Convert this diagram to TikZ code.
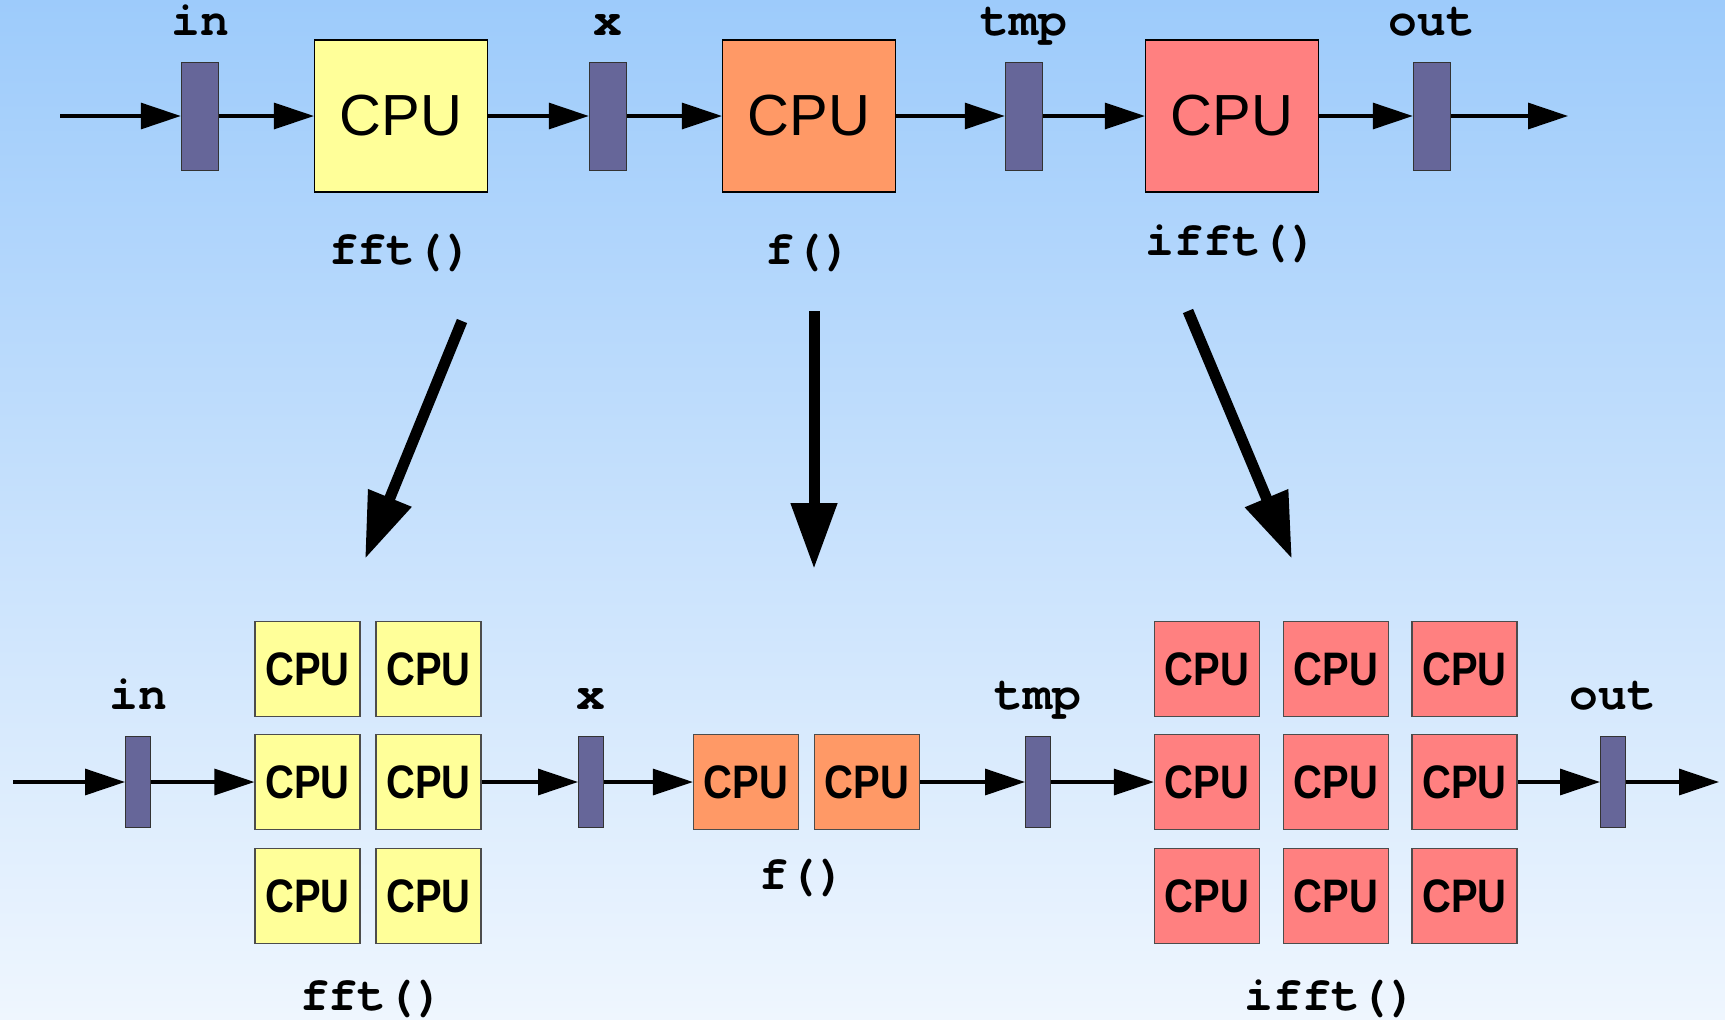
\documentclass[tikz,border=0pt]{standalone}
\usepackage{fontspec}
\setmainfont{Liberation Sans}
\setmonofont[Ligatures={NoCommon,NoRequired}]{TeX Gyre Cursor}
\newfontfamily\cpunarrow[FakeStretch=0.85]{Liberation Sans}
\usetikzlibrary{arrows.meta}

\definecolor{cpuyellow}{HTML}{FFFF99}
\definecolor{cpuorange}{HTML}{FF9966}
\definecolor{cpured}{HTML}{FF8080}
\definecolor{bufblue}{HTML}{666699}
\definecolor{bgtop}{RGB}{157,203,251}
\definecolor{bgbottom}{RGB}{239,246,254}

\begin{document}
\begin{tikzpicture}[x=0.5pt, y=-0.5pt,
    buf/.style={draw=black!80, fill=bufblue, inner sep=0pt, line width=0.5pt},
    bigcpu/.style={draw=black, inner sep=0pt, line width=0.6pt, minimum width=86.5pt, minimum height=76pt, font=\fontsize{29}{30}\selectfont},
    smallcpu/.style={draw=black!70, inner sep=0pt, line width=0.6pt, minimum width=52.5pt, minimum height=47.75pt, font=\cpunarrow\bfseries\fontsize{23.5}{24}\selectfont},
    lbl/.style={anchor=base, font=\ttfamily\bfseries\fontsize{24}{25}\selectfont},
    flow/.style={-{Triangle[length=20pt,width=13pt]}, line width=1.6pt},
    bigflow/.style={-{Triangle[length=33pt,width=22pt]}, line width=5.5pt}]
    % Hintergrund
    \useasboundingbox (0,0) rectangle (1725,1019);
    \shade[top color=bgtop, bottom color=bgbottom] (0,0) rectangle (1725,1019);

    % Obere Zeile: ein CPU pro Schritt
    \coordinate (tstart) at (60,116);
    \coordinate (tend) at (1568,116);
    \node[buf, minimum width=18.75pt, minimum height=54pt] (tin) at (200,116) {};
    \node[bigcpu, fill=cpuyellow] (tfft) at (401,116) {CPU};
    \node[buf, minimum width=18.75pt, minimum height=54pt] (tx) at (608,116) {};
    \node[bigcpu, fill=cpuorange] (tf) at (809,116) {CPU};
    \node[buf, minimum width=18.75pt, minimum height=54pt] (ttmp) at (1024,116) {};
    \node[bigcpu, fill=cpured] (tifft) at (1232,116) {CPU};
    \node[buf, minimum width=18.75pt, minimum height=54pt] (tout) at (1432,116) {};

    \node[lbl] (tinlbl) at (200,35) {in};
    \node[lbl] (txlbl) at (608,35) {x};
    \node[lbl] (ttmplbl) at (1024,35) {tmp};
    \node[lbl] (toutlbl) at (1432,35) {out};
    \node[lbl] (tfftlbl) at (401,264) {fft()};
    \node[lbl] (tflbl) at (809,264) {f()};
    \node[lbl] (tifftlbl) at (1232,255) {ifft()};

    \draw[flow] (tstart) -- (tin);
    \draw[flow] (tin) -- (tfft);
    \draw[flow] (tfft) -- (tx);
    \draw[flow] (tx) -- (tf);
    \draw[flow] (tf) -- (ttmp);
    \draw[flow] (ttmp) -- (tifft);
    \draw[flow] (tifft) -- (tout);
    \draw[flow] (tout) -- (tend);

    % Grosse Pfeile
    \coordinate (afft) at (462,321);
    \coordinate (bfft) at (365,559);
    \coordinate (af) at (814,311);
    \coordinate (bf) at (814,569);
    \coordinate (aifft) at (1188,311);
    \coordinate (bifft) at (1292,559);
    \draw[bigflow] (afft) -- (bfft);
    \draw[bigflow] (af) -- (bf);
    \draw[bigflow] (aifft) -- (bifft);

    % Untere Zeile: mehrere CPUs pro Schritt
    \coordinate (bstart) at (13,782);
    \coordinate (bend) at (1719,782);
    \node[buf, minimum width=12.5pt, minimum height=45.5pt] (bin) at (138,782) {};
    \foreach \r/\yy in {1/669,2/782,3/896}
      \foreach \c/\xx in {1/307.5,2/428.5}
        \node[smallcpu, fill=cpuyellow] (yc\r\c) at (\xx,\yy) {CPU};
    \node[buf, minimum width=12.5pt, minimum height=45.5pt] (bx) at (591,782) {};
    \node[smallcpu, fill=cpuorange] (oc1) at (746,782) {CPU};
    \node[smallcpu, fill=cpuorange] (oc2) at (867,782) {CPU};
    \node[buf, minimum width=12.5pt, minimum height=45.5pt] (btmp) at (1038,782) {};
    \foreach \r/\yy in {1/669,2/782,3/896}
      \foreach \c/\xx in {1/1207,2/1336,3/1464.5}
        \node[smallcpu, fill=cpured] (rc\r\c) at (\xx,\yy) {CPU};
    \node[buf, minimum width=12.5pt, minimum height=45.5pt] (bout) at (1613,782) {};

    \node[lbl] (binlbl) at (138,709) {in};
    \node[lbl] (bxlbl) at (591,709) {x};
    \node[lbl] (btmplbl) at (1038,709) {tmp};
    \node[lbl] (boutlbl) at (1613,709) {out};
    \node[lbl] (bfftlbl) at (372,1010) {fft()};
    \node[lbl] (bflbl) at (803,889) {f()};
    \node[lbl] (bifftlbl) at (1331,1010) {ifft()};

    \draw[flow] (bstart) -- (bin);
    \draw[flow] (bin) -- (yc21);
    \draw[flow] (yc22) -- (bx);
    \draw[flow] (bx) -- (oc1);
    \draw[flow] (oc2) -- (btmp);
    \draw[flow] (btmp) -- (rc21);
    \draw[flow] (rc23) -- (bout);
    \draw[flow] (bout) -- (bend);
\end{tikzpicture}
\end{document}
